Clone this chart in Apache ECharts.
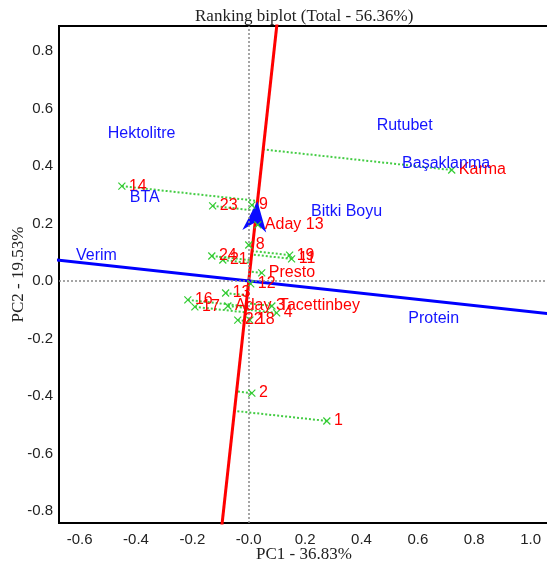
<!DOCTYPE html>
<html>
<head>
<meta charset="utf-8">
<script src="https://cdn.jsdelivr.net/npm/echarts@6/dist/echarts.min.js"></script>
<style>
  html, body { margin: 0; padding: 0; background: #fff; }
  #chart { width: 547px; height: 565px; }
</style>
</head>
<body>
<div id="chart"></div>
<script>
// genotypes (red labels, green x markers)
const genotypeNames = ['1', '2', 'Karma', '14', '23', '9', 'Aday 13', '8', '24', '21', '19', '11',
  'Presto', '12', '13', '16', '17', 'Aday 3', 'Tacettinbey', '4', '22', '18'];
const genotypeX = [0.277, 0.011, 0.720, -0.450, -0.128, 0.011, 0.032, 0.0, -0.131, -0.092, 0.145, 0.152,
  0.046, 0.007, -0.082, -0.216, -0.191, -0.074, 0.082, 0.099, -0.039, 0.004];
const genotypeY = [-0.487, -0.390, 0.386, 0.330, 0.261, 0.264, 0.195, 0.125, 0.087, 0.073, 0.090, 0.077,
  0.028, -0.010, -0.042, -0.066, -0.090, -0.087, -0.087, -0.111, -0.136, -0.136];

// traits (blue labels)
const traitNames = ['Hektolitre', 'BTA', 'Rutubet', 'Başaklanma', 'Bitki Boyu', 'Verim', 'Protein'];
const traitX = [-0.380, -0.369, 0.553, 0.700, 0.347, -0.540, 0.656];
const traitY = [0.511, 0.290, 0.539, 0.410, 0.241, 0.090, -0.130];

// average environment axis (red) and its perpendicular (blue)
const aecDir = [0.112, 1];
const perpDir = [1, -0.107];
const arrowPos = 0.225; // along the red axis (y value)

const xTicks = [-0.6, -0.4, -0.2, 0, 0.2, 0.4, 0.6, 0.8, 1.0];
const yTicks = [-0.8, -0.6, -0.4, -0.2, 0, 0.2, 0.4, 0.6, 0.8];

const chart = echarts.init(document.getElementById('chart'));

// foot of each genotype on the red axis, moving parallel to the blue axis
function projectOnAec(x, y) {
  // x + s*px = t*ax ; y + s*py = t*ay
  const [ax, ay] = aecDir;
  const [px, py] = perpDir;
  const det = px * ay - py * ax;
  const s = (ax * y - ay * x) / det;
  return [x + s * px, y + s * py];
}

const projLines = genotypeNames.map((n, i) => ({
  coords: [[genotypeX[i], genotypeY[i]], projectOnAec(genotypeX[i], genotypeY[i])],
}));

const sansFont = 'Liberation Sans, Arial, sans-serif';
const serifFont = 'Liberation Serif, Times New Roman, serif';

const option = {
  animation: false,
  title: {
    text: 'Ranking biplot (Total - 56.36%)',
    left: 190,
    top: 3,
    textStyle: { fontFamily: serifFont, fontSize: 17, fontWeight: 'normal', color: '#222' },
  },
  grid: {
    left: 59, right: -2, top: 26, bottom: 42,
    outerBoundsMode: 'none',
    containLabel: false,
    show: true, borderColor: '#000', borderWidth: 2,
  },
  xAxis: {
    type: 'value',
    min: -0.673,
    max: 1.065,
    name: 'PC1 - 36.83%',
    nameLocation: 'middle',
    nameGap: 23,
    nameMoveOverlap: false,
    nameTextStyle: { fontFamily: serifFont, fontSize: 17, color: '#222' },
    axisLine: { show: false },
    axisTick: { show: false },
    splitLine: { show: false },
    axisLabel: {
      customValues: xTicks,
      margin: 9,
      fontFamily: sansFont,
      fontSize: 15,
      color: '#222',
      formatter: (v) => (v === 0 ? '-0.0' : v.toFixed(1)),
    },
  },
  yAxis: {
    type: 'value',
    min: -0.842,
    max: 0.887,
    name: 'PC2 - 19.53%',
    nameLocation: 'middle',
    nameGap: 32,
    nameMoveOverlap: false,
    nameTextStyle: { fontFamily: serifFont, fontSize: 17, color: '#222' },
    axisLine: { show: false },
    axisTick: { show: false },
    splitLine: { show: false },
    axisLabel: {
      customValues: yTicks,
      margin: 6,
      fontFamily: sansFont,
      fontSize: 15,
      color: '#222',
      formatter: (v) => v.toFixed(1),
    },
  },
  series: [
    {
      // dotted zero lines
      type: 'line',
      data: [],
      markLine: {
        silent: true,
        symbol: 'none',
        label: { show: false },
        lineStyle: { color: '#888', type: [2, 2], width: 1.5 },
        data: [{ xAxis: 0 }, { yAxis: 0 }],
      },
    },
    {
      type: 'lines',
      coordinateSystem: 'cartesian2d',
      silent: true,
      lineStyle: { color: '#44cc44', width: 2, type: [2, 2], opacity: 1 },
      data: projLines,
    },
    {
      // red average environment axis
      type: 'line',
      symbol: 'none',
      clip: true,
      lineStyle: { color: '#ff0000', width: 3 },
      data: [[-aecDir[0], -aecDir[1]], [aecDir[0], aecDir[1]]],
      z: 3,
    },
    {
      // blue perpendicular axis
      type: 'line',
      symbol: 'none',
      clip: true,
      lineStyle: { color: '#0000ff', width: 3 },
      data: [[-perpDir[0], -perpDir[1]], [1.2 * perpDir[0], 1.2 * perpDir[1]]],
      z: 3,
    },
    {
      // arrow towards the average environment
      type: 'scatter',
      symbol: 'path://M12,0 L24,30 L12,21 L0,30 Z',
      symbolSize: [24, 30],
      symbolRotate: -6,
      itemStyle: { color: '#0a0aff', opacity: 1 },
      data: [[aecDir[0] * arrowPos / aecDir[1], arrowPos]],
      z: 4,
    },
    {
      type: 'scatter',
      symbol: 'path://M0,0 L10,10 M10,0 L0,10',
      symbolSize: 7,
      itemStyle: { color: 'transparent', borderColor: '#33cc33', borderWidth: 1.2, opacity: 1 },
      label: {
        show: true,
        position: 'right',
        distance: 3,
        formatter: '{b}',
        color: '#ff0000',
        fontFamily: sansFont,
        fontSize: 16,
      },
      data: genotypeNames.map((n, i) => ({ name: n, value: [genotypeX[i], genotypeY[i]] })),
      z: 5,
    },
    {
      type: 'scatter',
      symbolSize: 1,
      itemStyle: { color: 'transparent', opacity: 1 },
      label: {
        show: true,
        position: 'inside',
        formatter: '{b}',
        color: '#1414ff',
        fontFamily: sansFont,
        fontSize: 16,
      },
      data: traitNames.map((n, i) => ({ name: n, value: [traitX[i], traitY[i]] })),
      z: 6,
    },
  ],
};

chart.setOption(option);
</script>
</body>
</html>
